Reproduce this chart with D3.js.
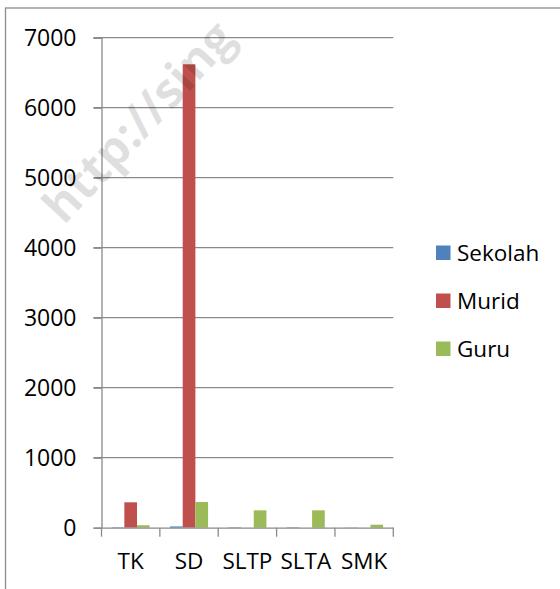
<!DOCTYPE html>
<html>
<head>
<meta charset="utf-8">
<script src="https://cdn.jsdelivr.net/npm/d3@7"></script>
<style>
  html, body { margin: 0; padding: 0; background: #fff; }
  svg { display: block; }
  text { font-family: "Open Sans", "Noto Sans", sans-serif; }
</style>
</head>
<body>
<svg id="chart" width="560" height="589"></svg>
<script>
const categories = ["TK", "SD", "SLTP", "SLTA", "SMK"];
const series = ["Sekolah", "Murid", "Guru"];
const sekolah = [6, 18, 6, 6, 3];
const murid = [363, 6620, 0, 0, 0];
const guru = [35, 367, 248, 248, 43];
const yTicks = [0, 1000, 2000, 3000, 4000, 5000, 6000, 7000];
const colors = ["#4F81BD", "#C0504D", "#9BBB59"];

const values = [sekolah, murid, guru];
const svg = d3.select("#chart");

const plot = { left: 101.5, right: 393.3, top: 37.7, bottom: 527.7 };

// chart frame
svg.append("rect")
  .attr("x", 5.5).attr("y", 8)
  .attr("width", 600).attr("height", 700)
  .attr("fill", "none").attr("stroke", "#8c8c8c").attr("stroke-width", 1.3);

const x0 = d3.scaleBand().domain(categories).range([plot.left, plot.right]).padding(0);
const step = x0.bandwidth();
const gap = step * 0.174;
const x1 = d3.scaleBand().domain(series).range([gap, step - gap]).padding(0);
const y = d3.scaleLinear().domain([0, 7000]).range([plot.bottom, plot.top]);

// gridlines
svg.append("g").selectAll("line").data(yTicks.filter(d => d > 0)).join("line")
  .attr("x1", plot.left - 8).attr("x2", plot.right)
  .attr("y1", d => y(d)).attr("y2", d => y(d))
  .attr("stroke", "#8a8a8a").attr("stroke-width", 1.3);

// bars
const groups = svg.append("g").selectAll("g").data(categories).join("g")
  .attr("transform", c => `translate(${x0(c)},0)`);
groups.selectAll("rect").data((c, i) => series.map((s, j) => ({ s, j, v: values[j][i] }))).join("rect")
  .attr("x", d => x1(d.s))
  .attr("width", x1.bandwidth())
  .attr("y", d => y(d.v))
  .attr("height", d => y(0) - y(d.v))
  .attr("fill", d => colors[d.j]);

// y axis
const yAxis = svg.append("g").attr("transform", `translate(${plot.left},0)`)
  .call(d3.axisLeft(y).tickValues(yTicks).tickSize(8).tickPadding(17).tickFormat(d3.format("d")));
yAxis.select(".domain").attr("stroke", "#8a8a8a").attr("stroke-width", 1.3);
yAxis.selectAll(".tick line").attr("stroke", "#8a8a8a").attr("stroke-width", 1.3);
yAxis.selectAll("text").style("font-size", "23px").style("fill", "#000")
  .style("font-family", '"Open Sans", sans-serif');

// x axis
const xAxis = svg.append("g").attr("transform", `translate(0,${plot.bottom})`)
  .call(d3.axisBottom(x0).tickSize(0).tickPadding(25));
xAxis.select(".domain").attr("stroke", "#8a8a8a").attr("stroke-width", 1.3);
xAxis.selectAll("text").style("font-size", "22.5px").style("fill", "#000")
  .style("font-family", '"Open Sans", sans-serif');
// category boundary ticks
const bounds = categories.map(c => x0(c)).concat([plot.right]);
xAxis.append("g").selectAll("line").data(bounds).join("line")
  .attr("x1", d => d).attr("x2", d => d).attr("y1", 0).attr("y2", 9)
  .attr("stroke", "#8a8a8a").attr("stroke-width", 1.3);

// legend
const legend = svg.append("g").attr("transform", "translate(436,253)");
const li = legend.selectAll("g").data(series).join("g")
  .attr("transform", (d, i) => `translate(0,${i * 48})`);
li.append("rect").attr("x", 0).attr("y", -7.5).attr("width", 14.5).attr("height", 14.5)
  .attr("fill", (d, i) => colors[i]);
li.append("text").attr("x", 21).attr("y", 0).attr("dy", "0.36em")
  .style("font-size", "22.5px").style("fill", "#000").text(d => d);

// watermark
svg.append("text")
  .attr("transform", "translate(64,226) rotate(-47)")
  .style("font-size", "48px").style("font-weight", "bold")
  .style("font-family", '"Open Sans", sans-serif')
  .style("fill", "rgba(0,0,0,0.12)")
  .text("http://sing");
</script>
</body>
</html>
